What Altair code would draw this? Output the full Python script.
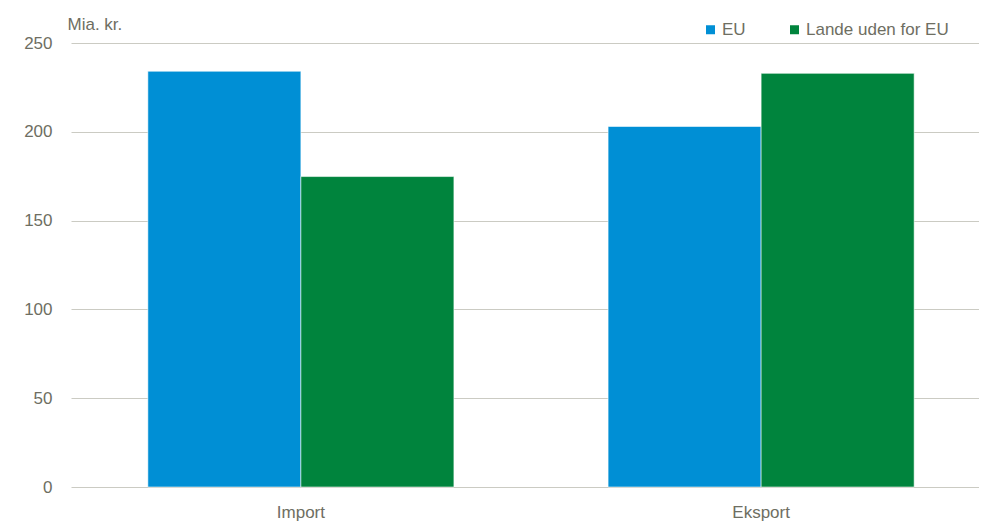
import altair as alt
import pandas as pd

categories = ["Import", "Eksport"]
series = ["EU", "Lande uden for EU"]
eu_values = [234.1, 203.0]
non_eu_values = [174.8, 232.9]
colors = ["#008FD5", "#00843D"]
y_ticks = [0, 50, 100, 150, 200, 250]

rows = []
for i, c in enumerate(categories):
    rows.append({"kategori": c, "serie": series[0], "værdi": eu_values[i]})
    rows.append({"kategori": c, "serie": series[1], "værdi": non_eu_values[i]})
df = pd.DataFrame(rows)

FONT = "Liberation Sans"
TXT = "#6E6E62"
GRID = "#CBCBC3"

chart = (
    alt.Chart(df)
    .mark_bar(stroke="white", strokeWidth=0.8, strokeOpacity=0.7)
    .encode(
        x=alt.X(
            "kategori:N",
            sort=categories,
            scale=alt.Scale(paddingInner=0.335, paddingOuter=0.167, range=[0, 920]),
            axis=alt.Axis(
                title=None, labelAngle=0, domain=False, ticks=False,
                labelPadding=17, labelFontSize=17, labelColor=TXT, labelFont=FONT,
            ),
        ),
        xOffset=alt.XOffset("serie:N", sort=series),
        y=alt.Y(
            "værdi:Q",
            scale=alt.Scale(domain=[0, 250], nice=False),
            axis=alt.Axis(
                title="Mia. kr.", titleAngle=0, titleAlign="left", titleBaseline="alphabetic",
                titleX=-4, titleY=-14, titleFontSize=17, titleFontWeight="normal",
                titleColor=TXT, titleFont=FONT,
                values=y_ticks, domain=False, ticks=False, grid=True,
                gridColor=GRID, gridWidth=1.2,
                labelPadding=19, labelFontSize=17, labelColor=TXT, labelFont=FONT,
            ),
        ),
        color=alt.Color(
            "serie:N",
            sort=series,
            scale=alt.Scale(domain=series, range=colors),
            legend=alt.Legend(
                title=None, orient="none", direction="horizontal",
                legendX=631, legendY=-22, symbolType="square", symbolSize=81,
                symbolStrokeWidth=0, labelFontSize=17, labelColor=TXT, labelFont=FONT,
                columnPadding=40, labelOffset=3,
            ),
        ),
    )
    .properties(
        width=908,
        height=444,
        padding={"left": 63, "top": 35, "right": 0, "bottom": 34},
        autosize=alt.AutoSizeParams(type="none"),
    )
    .configure_view(stroke=None)
)

chart.save("out.html", embed_options={"renderer": "svg", "actions": False})
